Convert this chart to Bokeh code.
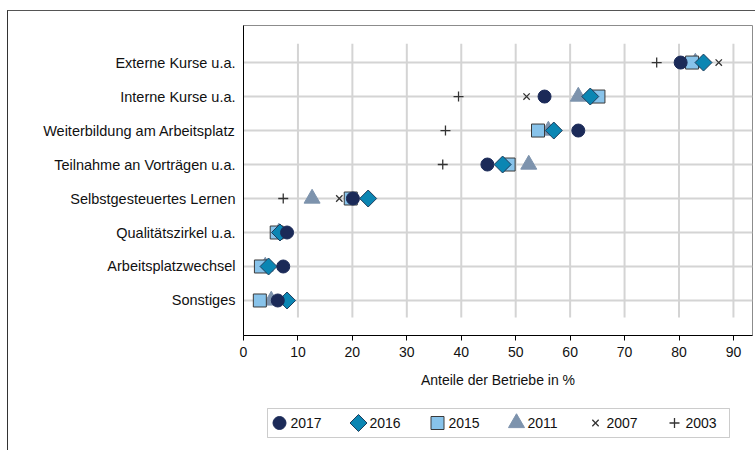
import numpy as np
from bokeh.plotting import figure
from bokeh.layouts import column
from bokeh.models import ColumnDataSource, Range1d, FixedTicker, BoxAnnotation
from bokeh.core.properties import value
from bokeh.embed import file_html
from bokeh.resources import INLINE

categories = ["Externe Kurse u.a.", "Interne Kurse u.a.", "Weiterbildung am Arbeitsplatz",
              "Teilnahme an Vorträgen u.a.", "Selbstgesteuertes Lernen", "Qualitätszirkel u.a.",
              "Arbeitsplatzwechsel", "Sonstiges"]
nan = float("nan")
v2017 = [80.3, 55.3, 61.5, 44.8, 20.1, 8.0, 7.3, 6.3]
v2016 = [84.5, 63.7, 57.0, 47.6, 22.9, 6.7, 4.6, 8.0]
v2015 = [82.4, 65.2, 54.1, 48.7, 19.7, 6.1, 3.2, 3.0]
v2011 = [83.0, 61.5, 56.0, 52.4, 12.6, 6.5, 4.0, 5.1]
v2007 = [87.3, 52.0, nan, nan, 17.6, nan, nan, nan]
v2003 = [75.9, 39.5, 37.1, 36.6, 7.3, 6.5, nan, nan]
years = ["2017", "2016", "2015", "2011", "2007", "2003"]
x_ticks = [0, 10, 20, 30, 40, 50, 60, 70, 80, 90]

ypos = list(range(len(categories), 0, -1))
FONT = "Liberation Sans"

styles = {
    "2017": dict(marker="circle", size=13, angle=0, fill_color="#1b2a58", line_color="#1b2a58", line_width=1),
    "2016": dict(marker="square", size=12, angle=np.pi / 4, fill_color="#0b86b3", line_color="#1d3d5c", line_width=1),
    "2015": dict(marker="square", size=13, angle=0, fill_color="#88c3ea", line_color="#3a3a3a", line_width=1),
    "2011": dict(marker="triangle", size=16, angle=0, fill_color="#7d93ad", line_color="#7d93ad", line_width=1),
    "2007": dict(marker="x", size=9, angle=0, fill_color=None, line_color="#333333", line_width=1.3),
    "2003": dict(marker="cross", size=10, angle=0, fill_color=None, line_color="#333333", line_width=1.3),
}

BL, BR = 235, 3  # shared left / right borders so both frames line up
W = 747

p = figure(width=W, height=384, output_backend="svg", toolbar_location=None,
           x_range=Range1d(0, 93.5), y_range=Range1d(-0.03, 9.09),
           min_border_left=BL, min_border_top=14, min_border_right=BR, min_border_bottom=60)
p.outline_line_color = "#8c8c8c"
p.outline_line_width = 1

p.xgrid.visible = False
p.ygrid.ticker = FixedTicker(ticks=ypos)
p.ygrid.grid_line_color = "#d4d4d4"
p.ygrid.grid_line_width = 2
grid_x = x_ticks[1:]
p.segment(x0=grid_x, x1=grid_x, y0=[0.5] * len(grid_x), y1=[8.55] * len(grid_x),
          line_color="#d4d4d4", line_width=2)

p.xaxis.ticker = FixedTicker(ticks=x_ticks)
p.xaxis.axis_label = "Anteile der Betriebe in %"
p.xaxis.axis_label_text_font = FONT
p.xaxis.axis_label_text_font_style = "normal"
p.xaxis.axis_label_text_font_size = "14px"
p.xaxis.axis_label_text_color = "#111111"
p.xaxis.axis_label_standoff = 12
p.xaxis.major_label_text_font = FONT
p.xaxis.major_label_text_font_size = "14px"
p.xaxis.major_label_text_color = "#111111"
p.xaxis.major_tick_out = 5
p.xaxis.major_tick_in = 0
p.xaxis.minor_tick_out = 0
p.xaxis.minor_tick_in = 0
p.xaxis.major_label_standoff = 6
p.xaxis.axis_line_color = "black"

p.yaxis.ticker = FixedTicker(ticks=ypos)
p.yaxis.major_label_overrides = {y: c for y, c in zip(ypos, categories)}
p.yaxis.major_label_text_font = FONT
p.yaxis.major_label_text_font_size = "14.5px"
p.yaxis.major_label_text_color = "#111111"
p.yaxis.major_tick_out = 0
p.yaxis.major_tick_in = 0
p.yaxis.minor_tick_out = 0
p.yaxis.minor_tick_in = 0
p.yaxis.major_label_standoff = 8
p.yaxis.axis_line_color = "black"

src = ColumnDataSource(dict(y=ypos, v2017=v2017, v2016=v2016, v2015=v2015,
                            v2011=v2011, v2007=v2007, v2003=v2003))
for yr in ["2003", "2007", "2011", "2015", "2016", "2017"]:
    p.scatter("v" + yr, "y", source=src, **styles[yr])

# legend as a small separate figure (frame aligned with the main frame; units = px)
frame_w = W - BL - BR
lg = figure(width=W, height=55, output_backend="svg", toolbar_location=None,
            x_range=Range1d(0, frame_w), y_range=Range1d(-2, 31),
            min_border_left=BL, min_border_right=BR, min_border_top=11, min_border_bottom=11)
lg.axis.visible = False
lg.grid.visible = False
lg.outline_line_color = None
lg.add_layout(BoxAnnotation(left=24, right=486, bottom=0, top=29, fill_color=None,
                            line_color="#555555", line_width=1))
idx = list(range(len(years)))
item_x = [36 + 79 * i for i in idx]
for i, yr in enumerate(years):
    lg.scatter([item_x[i]], [14.5], **styles[yr])
lg.text(x=item_x, y=[14.5] * len(idx), text=years, x_offset=11, text_baseline="middle",
        text_font=value(FONT), text_font_size="14px", text_color="#111111")

layout = column(p, lg, spacing=0,
                styles={"margin-left": "7px", "margin-top": "10px",
                        "border-top": "1px solid #555555", "border-left": "1px solid #333333"})

open("out.html", "w").write(file_html(layout, INLINE))
